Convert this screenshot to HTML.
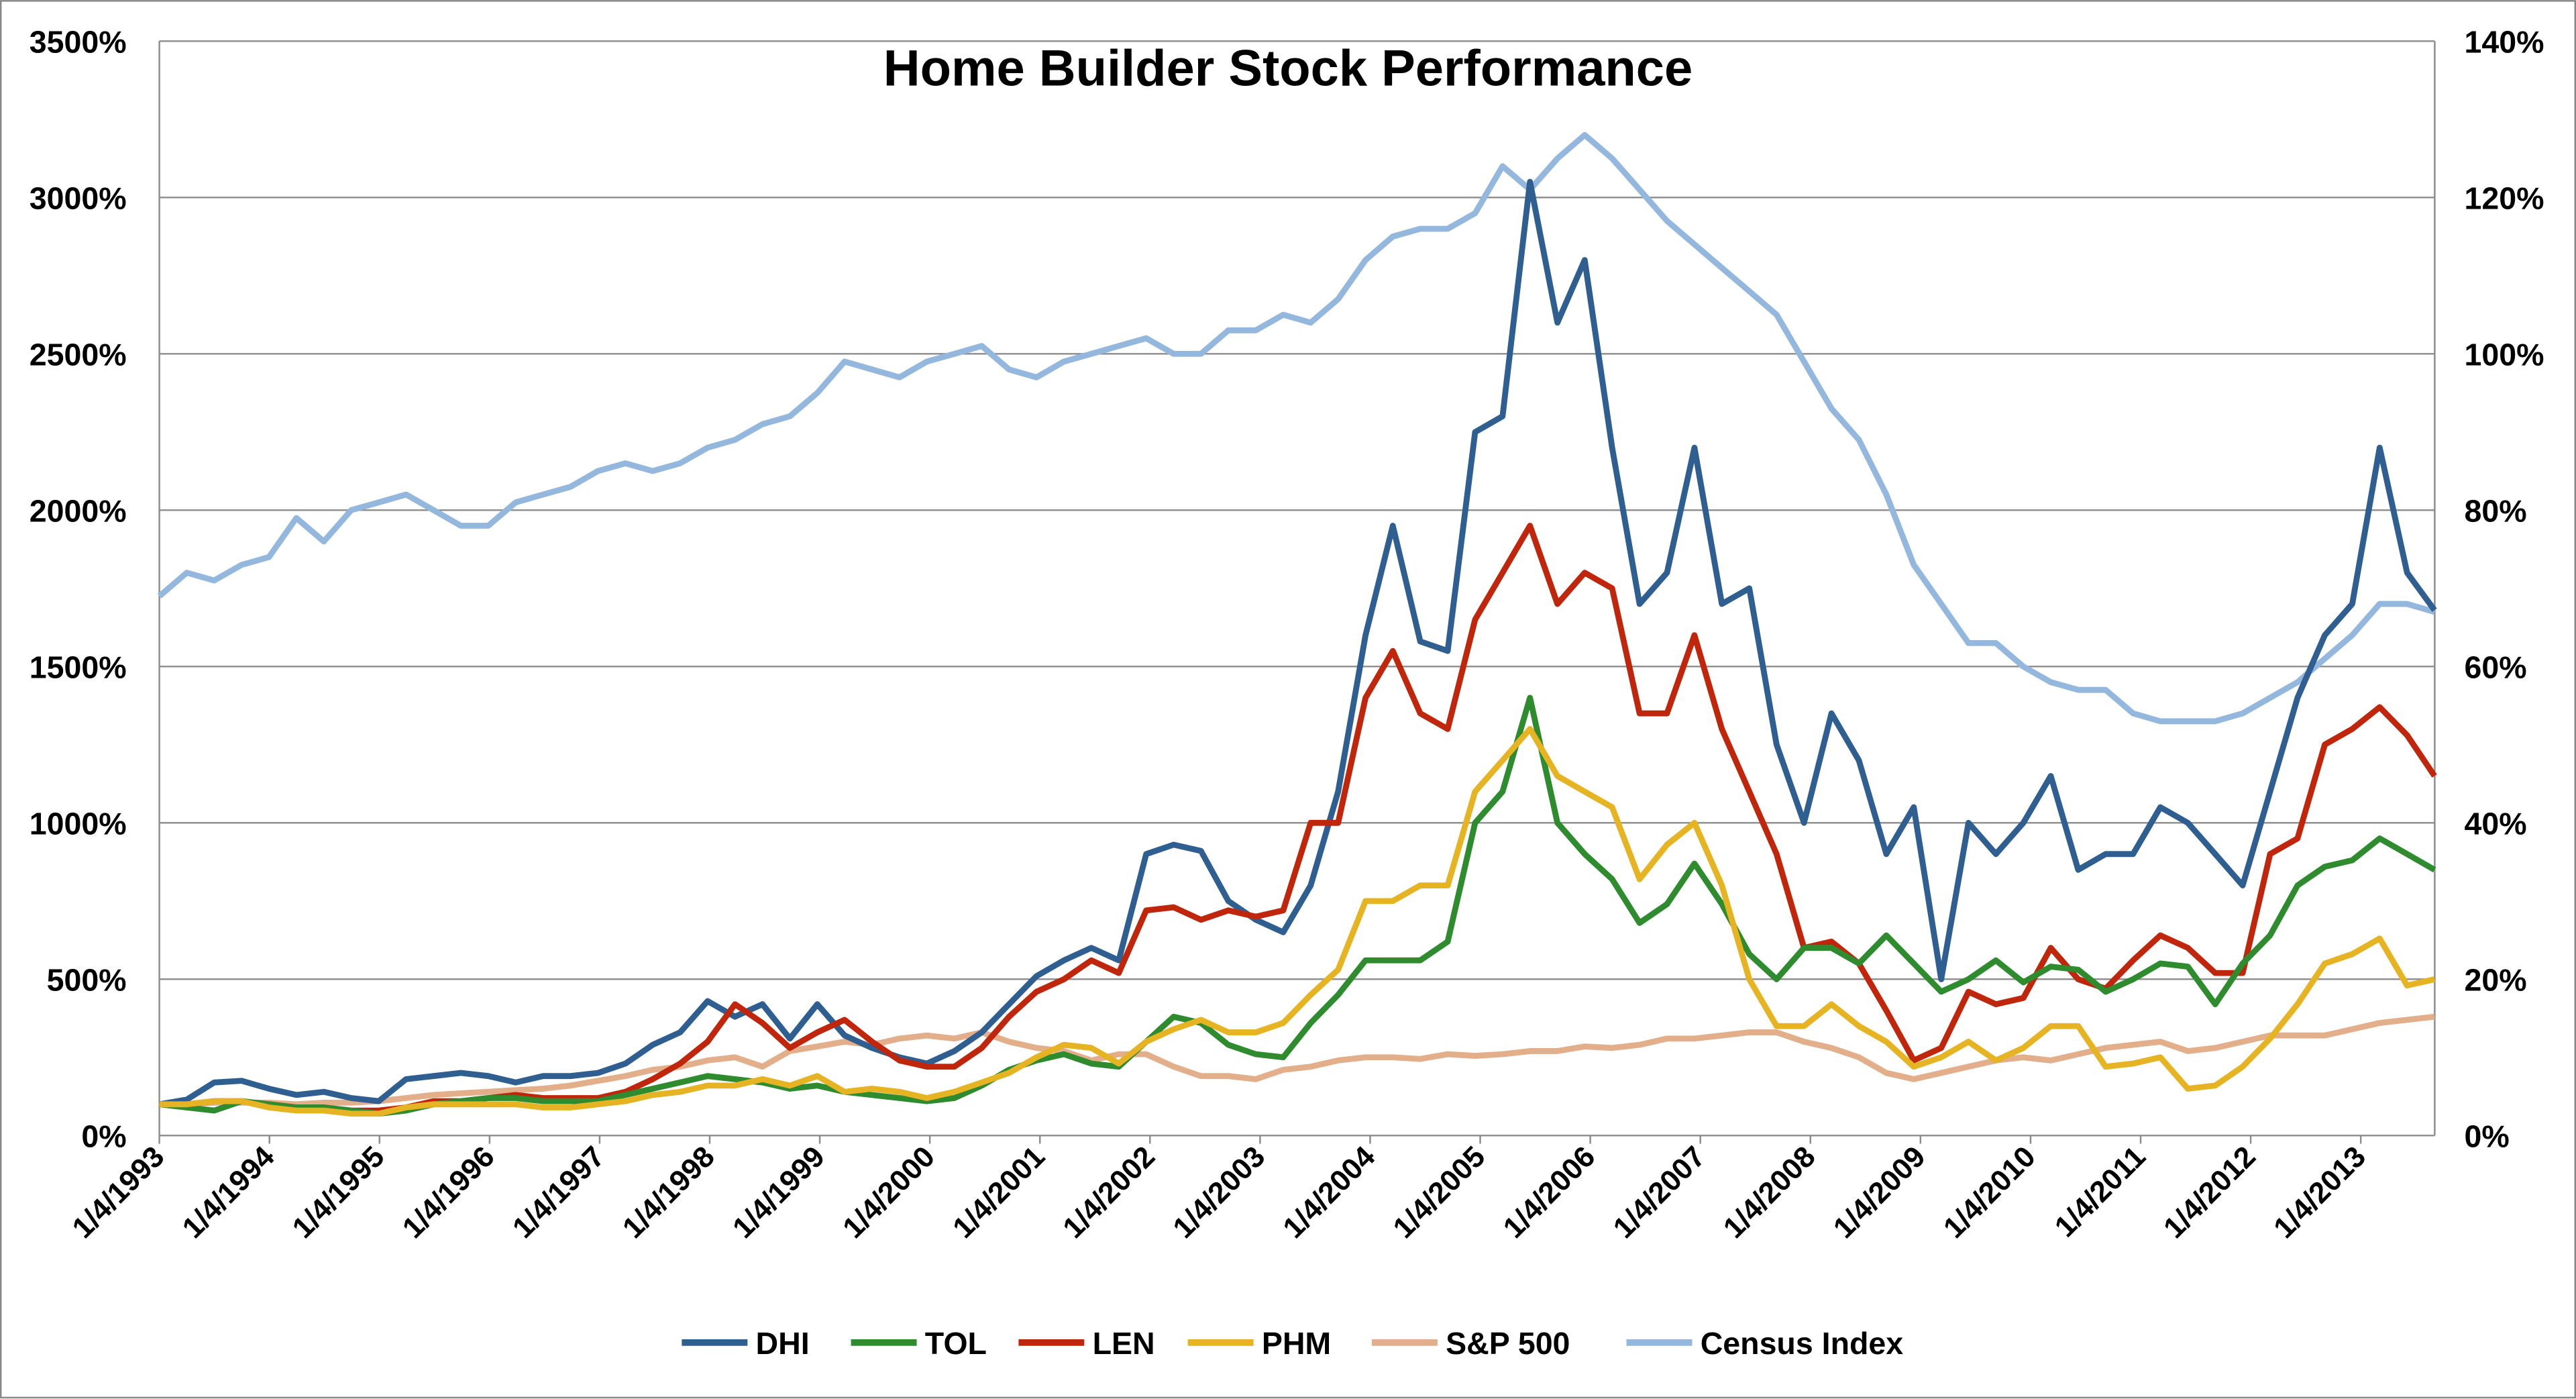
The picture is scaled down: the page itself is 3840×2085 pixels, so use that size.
<!DOCTYPE html>
<html><head><meta charset="utf-8"><style>
html,body{margin:0;padding:0;background:#fff;}
svg{display:block;font-family:"Liberation Sans",sans-serif;}
</style></head><body>
<svg id="chart" width="3840" height="2085" viewBox="0 0 1568 851.3" xmlns="http://www.w3.org/2000/svg">
<rect x="0.5" y="0.5" width="1567" height="850" fill="#fff" stroke="#888" stroke-width="1"/>
<text x="784" y="52" text-anchor="middle" font-size="31" font-weight="bold" fill="#000">Home Builder Stock Performance</text>
<g id="grid"></g><g id="axes"></g><g id="series"></g><g id="legend"></g>
</svg>
<script>
const leftTicks=["0%","500%","1000%","1500%","2000%","2500%","3000%","3500%"];
const rightTicks=["0%","20%","40%","60%","80%","100%","120%","140%"];
const xTickLabels=["1/4/1993","1/4/1994","1/4/1995","1/4/1996","1/4/1997","1/4/1998","1/4/1999","1/4/2000","1/4/2001","1/4/2002","1/4/2003","1/4/2004","1/4/2005","1/4/2006","1/4/2007","1/4/2008","1/4/2009","1/4/2010","1/4/2011","1/4/2012","1/4/2013"];
const seriesNames=["DHI","TOL","LEN","PHM","S&P 500","Census Index"];
const dhi=[100,115,170,175,150,130,140,120,110,180,190,200,190,170,190,190,200,230,290,330,430,380,420,310,420,320,280,250,230,270,330,420,510,560,600,560,900,930,910,750,690,650,800,1100,1600,1950,1580,1550,2250,2300,3050,2600,2800,2200,1700,1800,2200,1700,1750,1250,1000,1350,1200,900,1050,500,1000,900,1000,1150,850,900,900,1050,1000,900,800,1100,1400,1600,1700,2200,1800,1680];
const tol=[100,90,80,110,100,90,90,80,70,80,100,110,120,120,110,110,110,130,150,170,190,180,170,150,160,140,130,120,110,120,160,210,240,260,230,220,300,380,360,290,260,250,360,450,560,560,560,620,1000,1100,1400,1000,900,820,680,740,870,740,580,500,600,600,550,640,550,460,500,560,490,540,530,460,500,550,540,420,550,640,800,860,880,950,900,850];
const len=[100,100,110,110,100,90,90,80,80,90,110,110,120,130,120,120,120,140,180,230,300,420,360,280,330,370,300,240,220,220,280,380,460,500,560,520,720,730,690,720,700,720,1000,1000,1400,1550,1350,1300,1650,1800,1950,1700,1800,1750,1350,1350,1600,1300,1100,900,600,620,550,400,240,280,460,420,440,600,500,470,560,640,600,520,520,900,950,1250,1300,1370,1280,1150];
const phm=[100,100,110,110,90,80,80,70,70,90,100,100,100,100,90,90,100,110,130,140,160,160,180,160,190,140,150,140,120,140,170,200,250,290,280,230,300,340,370,330,330,360,450,530,750,750,800,800,1100,1200,1300,1150,1100,1050,820,930,1000,800,500,350,350,420,350,300,220,250,300,240,280,350,350,220,230,250,150,160,220,310,420,550,580,630,480,500];
const spx=[100,100,105,105,105,100,105,105,110,120,130,135,140,145,150,160,175,190,210,220,240,250,220,270,285,300,290,310,320,310,330,300,280,270,240,260,260,220,190,190,180,210,220,240,250,250,245,260,255,260,270,270,285,280,290,310,310,320,330,330,300,280,250,200,180,200,220,240,250,240,260,280,290,300,270,280,300,320,320,320,340,360,370,380];
const census=[69,72,71,73,74,79,76,80,81,82,80,78,78,81,82,83,85,86,85,86,88,89,91,92,95,99,98,97,99,100,101,98,97,99,100,101,102,100,100,103,103,105,104,107,112,115,116,116,118,124,121,125,128,125,121,117,114,111,108,105,99,93,89,82,73,68,63,63,60,58,57,57,54,53,53,53,54,56,58,61,64,68,68,67];
const colors=["#2f5f91","#2e8b2e","#c0260c","#e6b422","#e3ae8a","#94b7dd"];

const NS="http://www.w3.org/2000/svg";
const X0=97,PER_YEAR=67,Y0=691,YTOP=25;
function xScale(i){return X0+i*(20.67/83)*PER_YEAR;}
function yearX(k){return X0+k*PER_YEAR;}
function yLeft(v){return Y0-(v/3500)*(Y0-YTOP);}
function yRight(v){return Y0-(v/140)*(Y0-YTOP);}
function mk(tag,attrs,parent){const e=document.createElementNS(NS,tag);for(const k in attrs)e.setAttribute(k,attrs[k]);parent.appendChild(e);return e;}
const grid=document.getElementById('grid'),axes=document.getElementById('axes'),ser=document.getElementById('series'),leg=document.getElementById('legend');

leftTicks.forEach((t,i)=>{
  const y=yLeft(i*500);
  const g=mk('line',{x1:X0,x2:1482,y1:y,y2:y,stroke:'#8c8c8c','stroke-width':1},grid);
  
  
  const tl=mk('text',{x:77,y:y+7,'text-anchor':'end','font-size':19,'font-weight':'bold'},axes);
  tl.textContent=t;
  
  
});
rightTicks.forEach((t,i)=>{
  const y=yRight(i*20);
  const tl=mk('text',{x:1500,y:y+7,'text-anchor':'start','font-size':19,'font-weight':'bold'},axes);
  tl.textContent=t;
  
  
});
const la=mk('line',{x1:X0,x2:X0,y1:YTOP,y2:Y0,stroke:'#8c8c8c','stroke-width':1},axes);


const ra=mk('line',{x1:1482,x2:1482,y1:YTOP,y2:Y0,stroke:'#8c8c8c','stroke-width':1},axes);


xTickLabels.forEach((t,k)=>{
  const x=yearX(k);
  const tk=mk('line',{x1:x,x2:x,y1:Y0,y2:Y0+5,stroke:'#8c8c8c'},axes);
  
  
  const tl=mk('text',{x:x+4,y:Y0+14,'text-anchor':'end','font-size':18,'font-weight':'bold',transform:`rotate(-45 ${x+4} ${Y0+14})`},axes);
  tl.textContent=t;
  
  
});
const data=[dhi,tol,len,phm,spx,census];
const order=[5,4,0,2,1,3];
order.forEach(s=>{
  const arr=data[s];
  const ys=s===5?yRight:yLeft;
  const pts=arr.map((v,i)=>xScale(i).toFixed(1)+','+ys(v).toFixed(1)).join(' ');
  const p=mk('polyline',{points:pts,fill:'none',stroke:colors[s],'stroke-width':3.6,'stroke-linejoin':'round'},ser);
  
  
});
const legX=[415,518,620,723,835,990];
seriesNames.forEach((n,i)=>{
  const g=mk('g',{},leg);
  
  
  mk('line',{x1:legX[i],x2:legX[i]+40,y1:817,y2:817,stroke:colors[i],'stroke-width':4},g);
  const t=mk('text',{x:legX[i]+45,y:824,'font-size':19,'font-weight':'bold'},g);
  t.textContent=n;
});
</script>
</body></html>
